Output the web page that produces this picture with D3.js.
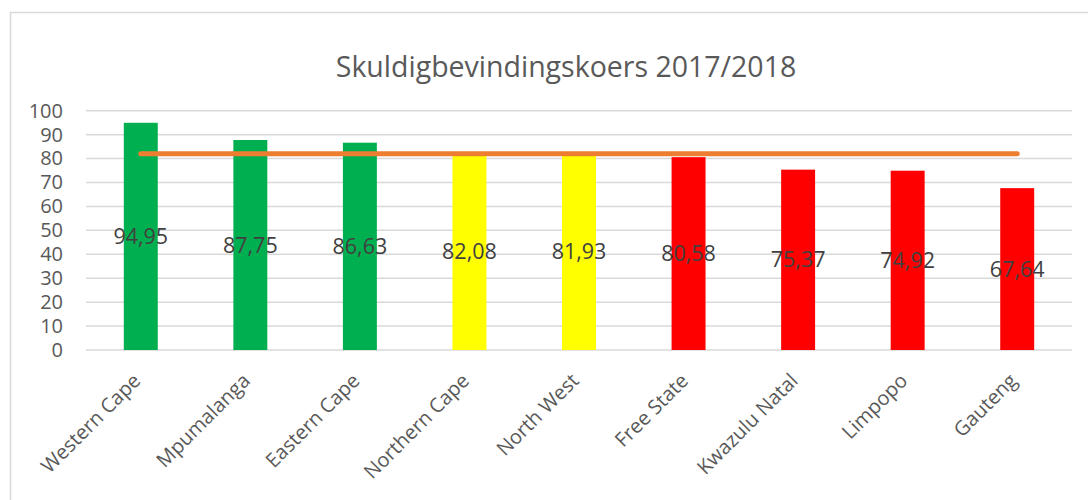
<!DOCTYPE html>
<html><head><meta charset="utf-8">
<script src="https://cdn.jsdelivr.net/npm/d3@7"></script>
<style>body{margin:0;background:#fff}svg{display:block}</style>
</head><body>
<script>
const categories = ["Western Cape","Mpumalanga","Eastern Cape","Northern Cape","North West","Free State","Kwazulu Natal","Limpopo","Gauteng"];
const values = [94.95,87.75,86.63,82.08,81.93,80.58,75.37,74.92,67.64];
const barColors = ["#00b050","#00b050","#00b050","#ffff00","#ffff00","#ff0000","#ff0000","#ff0000","#ff0000"];
const averageLine = [82,82,82,82,82,82,82,82,82];
const yTicks = [0,10,20,30,40,50,60,70,80,90,100];
const title = "Skuldigbevindingskoers 2017/2018";

const W = 1088, H = 500;
const svg = d3.select("body").append("svg").attr("width", W).attr("height", H);
svg.append("rect").attr("x",10.5).attr("y",12.5).attr("width",1200).attr("height",600)
  .attr("fill","none").attr("stroke","#d9d9d9").attr("stroke-width",1.5);

const font = "'Open Sans', sans-serif";
const x = d3.scaleBand().domain(categories).range([86, 1072]).paddingInner(0.69).paddingOuter(0.345);
const y = d3.scaleLinear().domain([0,100]).range([350, 110.7]);

svg.append("text").attr("x", 566).attr("y", 77).attr("text-anchor","middle")
  .attr("font-family", font).attr("font-size", 28.5).attr("fill","#595959").text(title);

// gridlines
svg.append("g").selectAll("line").data(yTicks).join("line")
  .attr("x1",86).attr("x2",1072).attr("y1",d=>y(d)).attr("y2",d=>y(d))
  .attr("stroke","#d9d9d9").attr("stroke-width",1.5);

// y axis labels
const yAxis = d3.axisLeft(y).tickValues(yTicks).tickSize(0).tickPadding(0);
const gy = svg.append("g").attr("transform","translate(63,0)").call(yAxis);
gy.select(".domain").remove();
gy.selectAll("text").attr("font-family",font).attr("font-size",20).attr("fill","#595959");

// bars
svg.append("g").selectAll("rect").data(values).join("rect")
  .attr("x",(d,i)=>x(categories[i])).attr("width",x.bandwidth())
  .attr("y",d=>y(d)).attr("height",d=>y(0)-y(d))
  .attr("fill",(d,i)=>barColors[i]);

// average line
const line = d3.line().x((d,i)=>x(categories[i])+x.bandwidth()/2).y(d=>y(d));
svg.append("path").datum(averageLine).attr("d",line).attr("fill","none")
  .attr("stroke","#ed7d31").attr("stroke-width",5).attr("stroke-linecap","round");

// value labels
svg.append("g").selectAll("text").data(values).join("text")
  .attr("x",(d,i)=>x(categories[i])+x.bandwidth()/2)
  .attr("y",d=>(y(d)+y(0))/2).attr("dy","0.35em").attr("text-anchor","middle")
  .attr("font-family",font).attr("font-size",21.5).attr("fill","#404040")
  .text(d=>d.toFixed(2).replace(".",","));

// x axis labels
const xAxis = d3.axisBottom(x).tickSize(0).tickPadding(0);
const gx = svg.append("g").attr("transform","translate(0,350)").call(xAxis);
gx.select(".domain").remove();
gx.selectAll("text").attr("font-family",font).attr("font-size",20).attr("fill","#595959")
  .attr("text-anchor","end").attr("dy",0).attr("y",0)
  .attr("transform","translate(1,32) rotate(-45)");
</script>
</body></html>
